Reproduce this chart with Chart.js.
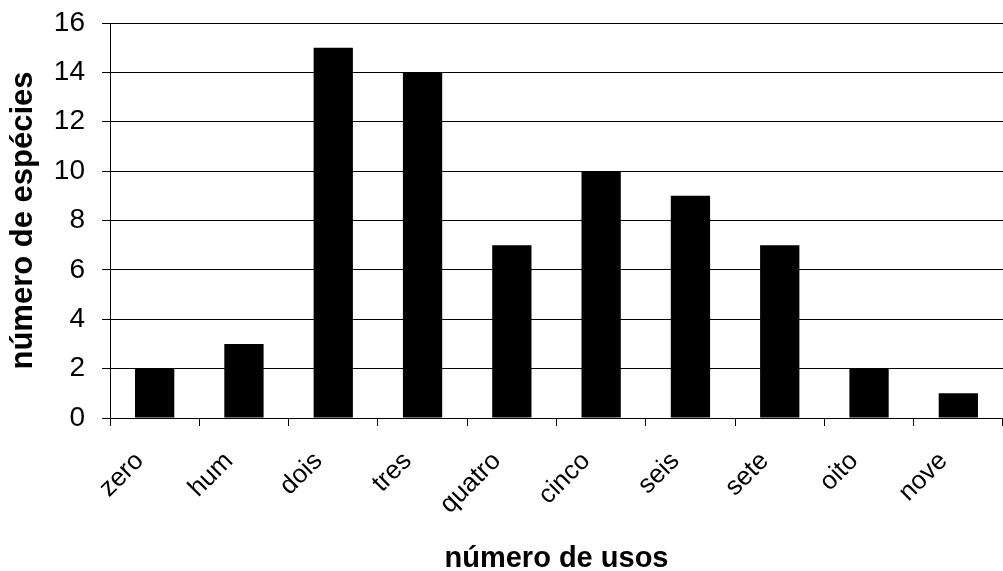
<!DOCTYPE html>
<html>
<head>
<meta charset="utf-8">
<script src="https://cdn.jsdelivr.net/npm/chart.js@4"></script>
<style>
  html, body { margin: 0; padding: 0; background: #fff; }
  #wrap { width: 1003px; height: 571px; }
</style>
</head>
<body>
<div id="wrap"><canvas id="chart-usos" width="1003" height="571"></canvas></div>
<script>
const categories = ['zero', 'hum', 'dois', 'tres', 'quatro', 'cinco', 'seis', 'sete', 'oito', 'nove'];
const especies = [2, 3, 15, 14, 7, 10, 9, 7, 2, 1];
const yTicks = [0, 2, 4, 6, 8, 10, 12, 14, 16];

const font = 'Liberation Sans, Arial, sans-serif';

let options = {
    responsive: false,
    animation: false,
    layout: { padding: { left: 0, right: 0, top: 23, bottom: 0 } },
    scales: {
        x: {
            offset: true,
            border: { color: '#000', width: 1 },
            grid: {
                offset: true,
                drawOnChartArea: false,
                drawTicks: true,
                tickLength: 8,
                color: '#000'
            },
            ticks: {
                color: '#000',
                font: { family: font, size: 26 },
                maxRotation: 45,
                minRotation: 45,
                padding: 20,
                labelOffset: -15
            },
            title: {
                display: true,
                text: 'número de usos',
                color: '#000',
                font: { family: font, size: 29, weight: 'bold', lineHeight: 1 },
                padding: { top: 0, bottom: -2 }
            },
            afterFit: function (axis) {
                axis.height = 153;
                axis.paddingLeft = 0;
                axis.paddingRight = 0;
            }
        },
        y: {
            min: 0,
            max: 16,
            afterBuildTicks: function (axis) {
                axis.ticks = yTicks.map(v => ({ value: v }));
            },
            border: { color: '#000', width: 1 },
            grid: {
                color: '#000',
                lineWidth: 1,
                tickLength: 8
            },
            ticks: {
                color: '#000',
                font: { family: font, size: 28 },
                padding: 17
            },
            title: {
                display: true,
                text: 'número de espécies',
                color: '#000',
                font: { family: font, size: 31, weight: 'bold', lineHeight: 1 },
                padding: { top: 8, bottom: 0 }
            },
            afterFit: function (axis) {
                axis.width = 110;
                axis.paddingTop = 0;
                axis.paddingBottom = 0;
            }
        }
    },
    plugins: {
        legend: { display: false },
        tooltip: { enabled: false }
    }
};

let chartOptions = {
    type: 'bar',
    data: {
        labels: categories,
        datasets: [{
            data: especies,
            backgroundColor: '#000',
            borderWidth: 0,
            categoryPercentage: 1,
            barPercentage: 0.44
        }]
    },
    options: options
};

let myChart = new Chart(document.getElementById('chart-usos').getContext('2d'), chartOptions);
</script>
</body>
</html>
